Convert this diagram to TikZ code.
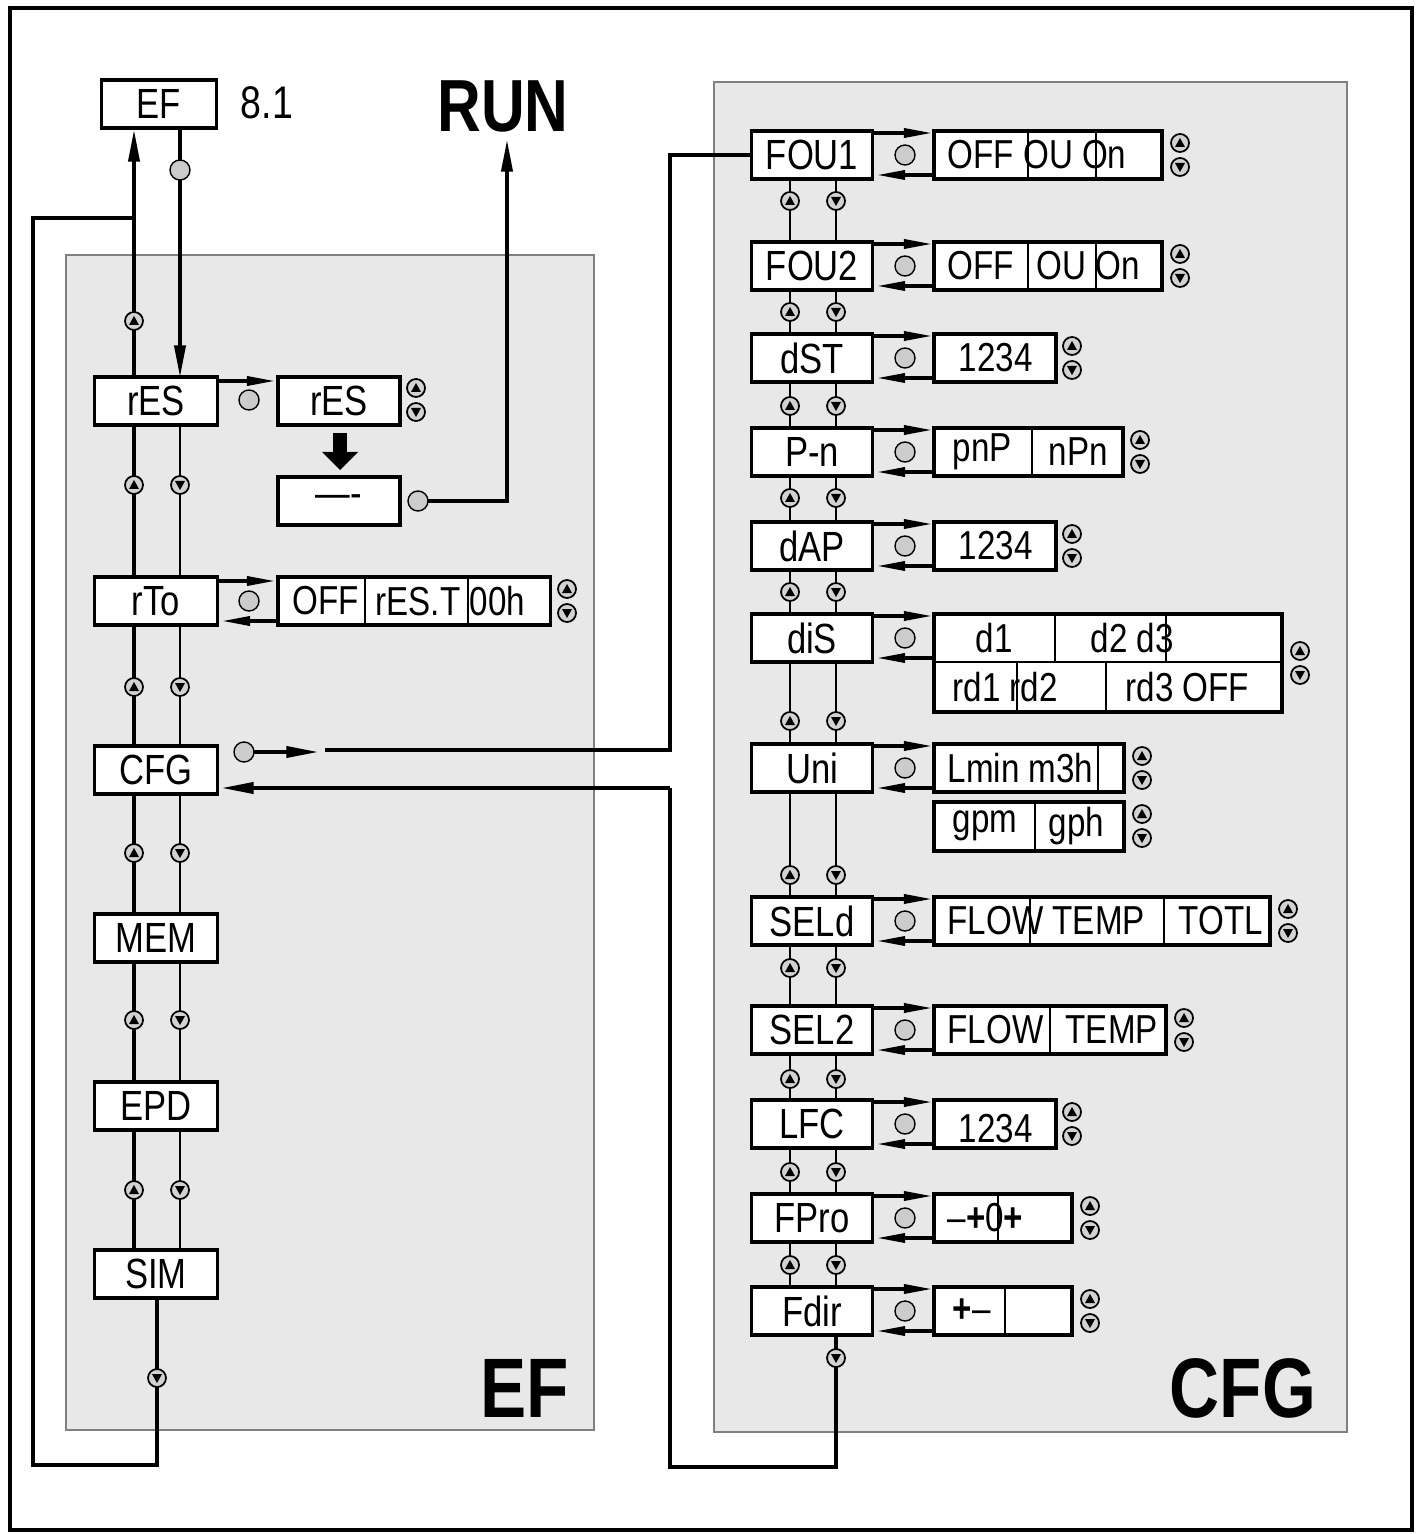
\documentclass[tikz,border=0pt]{standalone}
\usepackage{fontspec}
\setmainfont[FakeStretch=0.82]{Liberation Sans}
\usetikzlibrary{arrows.meta}
\begin{document}
\begin{tikzpicture}[x=0.01cm,y=-0.01cm,
 box/.style={draw,line width=0.9pt,fill=white,minimum height=0.48cm,inner sep=0pt,font=\fontsize{12}{14}\selectfont},
 vbox/.style={draw,line width=0.9pt,fill=white,inner sep=0pt},
 vt/.style={anchor=west,inner sep=0pt,font=\fontsize{11.5}{13}\selectfont},
 ln/.style={line width=0.5pt},
 tk/.style={line width=0.9pt},
 ar/.style={-{Triangle[length=9pt,width=3.2pt]}},
 sar/.style={-{Triangle[length=8pt,width=2.6pt]}},
 dot/.style={draw,fill=gray!40,line width=0.4pt}]
\useasboundingbox (0,0) rectangle (1420,1534);
\newcommand\ubt[2]{\draw[fill=gray!35,line width=0.5pt] (#1,#2) circle (9);\fill (#1-5,#2+4)--(#1+5,#2+4)--(#1,#2-5)--cycle;}
\newcommand\dbt[2]{\draw[fill=gray!35,line width=0.5pt] (#1,#2) circle (9);\fill (#1-5,#2-4)--(#1+5,#2-4)--(#1,#2+5)--cycle;}
\newcommand\udb[2]{\ubt{#1}{#2-12}\dbt{#1}{#2+12}}
\draw[line width=1pt] (10,8) rectangle (1412,1530);
\fill[gray!18] (66,255) rectangle (594,1430); \draw[line width=0.4pt,gray] (66,255) rectangle (594,1430);
\fill[gray!18] (714,82) rectangle (1347,1432); \draw[line width=0.4pt,gray] (714,82) rectangle (1347,1432);
\node[font=\bfseries\fontsize{24}{28}\selectfont] (lef) at (525,1388) {EF};
\node[font=\bfseries\fontsize{24}{28}\selectfont] (lcfg) at (1243,1388) {CFG};
\node[font=\bfseries\fontsize{21}{24}\selectfont] (run) at (503,106) {RUN};
\node[font=\fontsize{13}{15}\selectfont] (n81) at (267,103) {8.1};
% left column lines
\draw[tk] (134,1250) -- (134,218);
\draw[ln] (180,1250) -- (180,377);
\draw[tk,ar] (134,377) -- (134,130);
\draw[tk,ar] (180,128) -- (180,377);
\draw[tk] (157,1298) -- (157,1465) -- (33,1465) -- (33,218) -- (134,218);
\draw[dot] (180,170) circle (10);
\ubt{134}{321}
\foreach \y in {485,687,853,1020,1190}{\ubt{134}{\y}\dbt{180}{\y}}
\dbt{157}{1378}
\node[box,minimum width=1.15cm] (ef) at (159,104) {EF};
\foreach \n/\t/\y in {res/rES/401,rto/rTo/601,cfg/CFG/770,mem/MEM/938,epd/EPD/1106,sim/SIM/1274}
 \node[box,minimum width=1.23cm] (\n) at (156,\y) {\t};
% rES
\node[box,minimum width=1.22cm] (res2) at (339,401) {rES};
\draw[tk,sar] (res.east|-0,381) -- (275,381);
\draw[dot] (249,400) circle (10);
\udb{416}{400}
\fill (333,433) rectangle (347,452); \fill (322,452)--(358,452)--(340,470)--cycle;
\node[box,minimum width=1.22cm] (dash) at (339,501) {\raisebox{-0.6ex}{----}};
\draw[dot] (418,501) circle (10);
\draw[tk,ar] (428,501) -- (507,501) -- (507,140);
% rTo
\node[vbox,minimum width=2.72cm,minimum height=0.48cm] (rtov) at (414,601) {};
\draw[ln] (365,577)--(365,626) (468,577)--(468,626);
\node[vt] at (292,601) {OFF}; \node[vt] at (375,601) {rES.T 00h};
\draw[tk,sar] (218,581) -- (275,581);
\draw[tk,sar] (278,621) -- (222,621);
\draw[dot] (249,601) circle (10);
\udb{567}{601}
% CFG links
\draw[dot] (244,752) circle (10);
\draw[tk,ar] (254,752) -- (318,752);
\draw[tk] (325,750) -- (670,750) -- (670,155) -- (752,155);
\draw[tk,ar] (670,788) -- (222,788);
\draw[tk] (670,788) -- (670,1467) -- (836,1467) -- (836,1336);
\dbt{836}{1358}
% right column
\draw[ln] (790,155) -- (790,1311);
\draw[ln] (836,155) -- (836,1311);
\foreach \y in {201,312,406,498,592,721,875,968,1079,1172,1265}{\ubt{790}{\y}\dbt{836}{\y}}
\foreach \n/\t/\y in {fou1/FOU1/155,fou2/FOU2/266,dst/dST/358,pn/P-n/452,dap/dAP/546,dis/diS/638,uni/Uni/768,seld/SELd/921,sel2/SEL2/1030,lfc/LFC/1124,fpro/FPro/1218,fdir/Fdir/1311}{
 \node[box,minimum width=1.21cm] (\n) at (812,\y) {\t};
 \draw[dot] (905,\y) circle (10);
}
\foreach \y/\a/\b in {155/-22/20,266/-22/20,358/-22/20,452/-22/20,546/-22/20,638/-22/20,768/-22/20,921/-22/20,1030/-22/20,1124/-22/20,1218/-22/20,1311/-22/20}{
 \draw[tk,sar] (873,\y+\a) -- (932,\y+\a);
 \draw[tk,sar] (934,\y+\b) -- (877,\y+\b);
}
% value boxes
\newcommand\vb[4]{\draw[line width=0.9pt,fill=white] (934,#1-24) rectangle (#2,#1+24);\udb{#3}{#1}}
\vb{155}{1162}{1180}{} \draw[ln] (1028,131)--(1028,179) (1096,131)--(1096,179); \node[vt] at (947,155) {OFF OU On};
\vb{266}{1162}{1180}{} \draw[ln] (1028,242)--(1028,290) (1096,242)--(1096,290); \node[vt] at (947,266) {OFF}; \node[vt] at (1036,266) {OU On};
\vb{358}{1056}{1072}{} \node[vt] at (958,358) {1234};
\vb{452}{1123}{1140}{} \draw[ln] (1032,428)--(1032,476); \node[vt] at (952,452) {pnP}; \node[vt] at (1048,452) {nPn};
\vb{546}{1056}{1072}{} \node[vt] at (958,546) {1234};
\draw[line width=0.9pt,fill=white] (934,614) rectangle (1282,712); \udb{1300}{663}
\draw[ln] (934,662)--(1282,662) (1055,614)--(1055,662) (1166,614)--(1166,662) (1017,662)--(1017,712) (1106,662)--(1106,712);
\node[vt] at (975,638) {d1}; \node[vt] at (1090,638) {d2 d3};
\node[vt] at (952,687) {rd1 rd2}; \node[vt] at (1125,687) {rd3 OFF};
\vb{768}{1124}{1142}{} \draw[ln] (1098,744)--(1098,792); \node[vt] at (947,768) {Lmin m3h};
\draw[line width=0.9pt,fill=white] (934,802) rectangle (1124,851); \udb{1142}{826}
\draw[ln] (1035,802)--(1035,851); \node[vt] at (952,826) {gpm}; \node[vt] at (1048,826) {gph};
\vb{921}{1270}{1288}{} \draw[ln] (1030,897)--(1030,945) (1164,897)--(1164,945); \node[vt] at (947,921) {FLOW TEMP}; \node[vt] at (1178,921) {TOTL};
\vb{1030}{1166}{1184}{} \draw[ln] (1050,1006)--(1050,1054); \node[vt] at (947,1030) {FLOW}; \node[vt] at (1065,1030) {TEMP};
\vb{1124}{1056}{1072}{} \node[vt] at (958,1129) {1234};
\vb{1218}{1072}{1090}{} \draw[ln] (998,1194)--(998,1242); \node[vt] at (947,1218) {--\textbf{+}0\textbf{+}};
\vb{1311}{1072}{1090}{} \draw[ln] (1005,1287)--(1005,1335); \node[vt] at (952,1311) {\textbf{+}--};
\end{tikzpicture}
\end{document}
